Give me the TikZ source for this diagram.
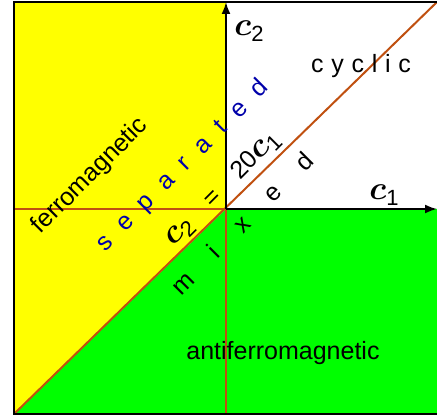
\RequirePackage{fix-cm}
\documentclass[tikz,border=0pt]{standalone}
\usepackage{amsmath}
\usepackage{fontspec}
\setmainfont{Liberation Sans}
\usetikzlibrary{arrows.meta}
\definecolor{FerroYellow}{RGB}{255,255,0}
\definecolor{AntiGreen}{RGB}{0,255,0}
\definecolor{BoundaryBrown}{RGB}{192,80,16}
\definecolor{SeparatedBlue}{RGB}{0,0,170}
\newcommand{\cpar}[1]{{\fontsize{33}{33}\selectfont\boldmath$c$}\raisebox{-6pt}{\fontsize{22}{22}\selectfont #1}}
\tikzset{
  boundary/.style={draw=BoundaryBrown, line width=2pt},
  frameline/.style={draw=black, line width=2pt},
  axisarrow/.style={-{Latex[length=12pt,width=9pt]}, line width=2pt},
  phaselabel/.style={font=\fontsize{25}{25}\selectfont, inner sep=0pt},
  spacedlabel/.style={inner sep=0pt,
    font=\fontsize{25}{25}\selectfont\addfontfeature{LetterSpace=#1}},
  axislabel/.style={inner sep=0pt}
}

\begin{document}
\begin{tikzpicture}[x=1pt, y=1pt]
      \useasboundingbox (0,0) rectangle (437,420);
      \coordinate (O) at (226,211);
      \coordinate (bl) at (14,6);
      \coordinate (tl) at (14,418);
      \coordinate (tr) at (437,418);
      \coordinate (br) at (437,6);
      \coordinate (top) at (226,418);
      \coordinate (bot) at (226,6);
      \coordinate (left) at (14,211);
      \coordinate (right) at (437,211);
      % regions
      \fill[FerroYellow] (bl) -- (tl) -- (top) -- (O) -- cycle;
      \fill[AntiGreen] (bl) -- (O) -- (right) -- (br) -- cycle;
      % phase boundaries
      \draw[boundary] (left) -- (O);
      \draw[boundary] (O) -- (bot);
      \draw[boundary] (bl) -- (tr);
      \draw[frameline] (tr) -- (tl) -- (bl) -- (br);
      \draw[axisarrow] (O) -- (right);
      \draw[axisarrow] (O) -- (top);
      % labels
      \node[axislabel] (ctwo) at (249,389) {\cpar{2}};
      \node[axislabel] (cone) at (384,225) {\cpar{1}};
      \node[spacedlabel=31] (cyclic) at (361,354) {cyclic};
      \node[phaselabel, rotate=45] (ferro) at (90,244) {ferromagnetic};
      \node[phaselabel] (antiferro) at (283,67) {antiferromagnetic};
      \node[spacedlabel=60, text=SeparatedBlue, rotate=45] (separated) at (183,254) {separated};
      \node[spacedlabel=122, rotate=45] (mixed) at (242,197) {mixed};
      \node[phaselabel, rotate=45] (line) at (223,231)
        {\cpar{2}\hspace{25pt}=\hspace{25pt}20\cpar{1}};
    \end{tikzpicture}
\end{document}
